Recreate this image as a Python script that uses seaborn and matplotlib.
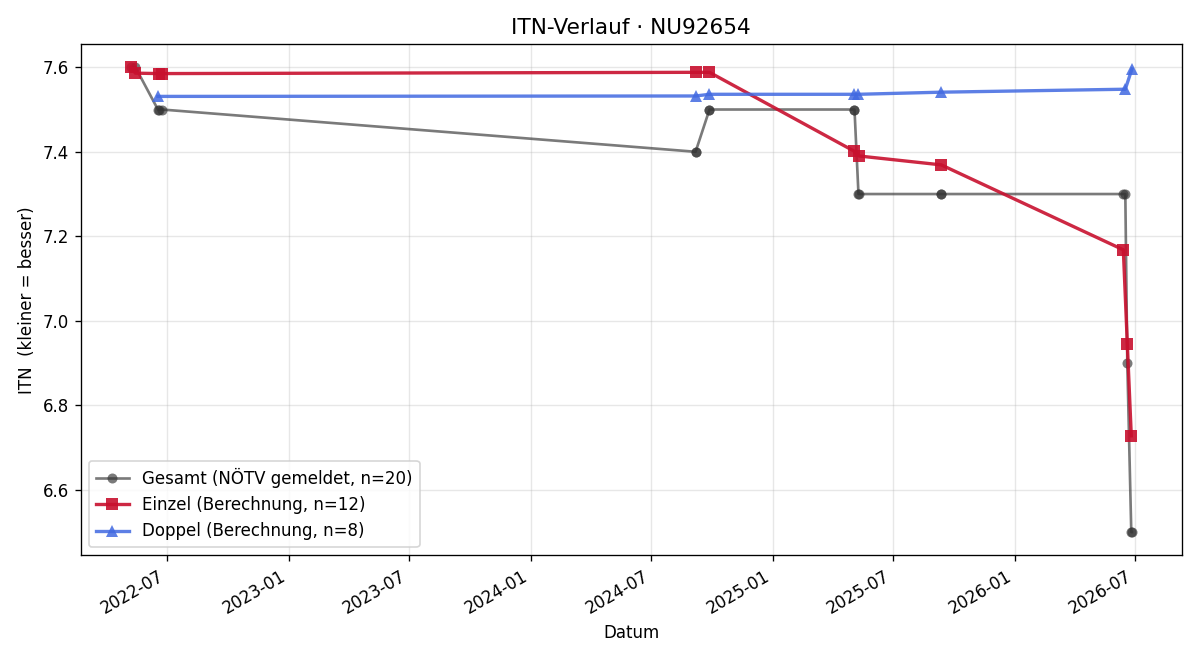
import matplotlib
matplotlib.use("Agg")
import matplotlib.pyplot as plt
import matplotlib.dates as mdates
import seaborn as sns
import pandas as pd

gesamt_dates = ["2022-05-07", "2022-05-14", "2022-06-17", "2022-06-19", "2022-06-23",
                "2024-09-06", "2024-09-06", "2024-09-27", "2024-09-27",
                "2025-05-04", "2025-05-04", "2025-05-10", "2025-05-11",
                "2025-09-12", "2025-09-12", "2026-06-14", "2026-06-17",
                "2026-06-20", "2026-06-26", "2026-06-27"]
gesamt_vals = [7.6, 7.6, 7.5, 7.5, 7.5,
               7.4, 7.4, 7.5, 7.5,
               7.5, 7.5, 7.3, 7.3,
               7.3, 7.3, 7.3, 7.3,
               6.9, 6.5, 6.5]

einzel_dates = ["2022-05-07", "2022-05-14", "2022-06-19", "2022-06-23",
                "2024-09-06", "2024-09-27", "2025-05-04", "2025-05-11",
                "2025-09-12", "2026-06-14", "2026-06-20", "2026-06-26"]
einzel_vals = [7.600, 7.586, 7.585, 7.585,
               7.588, 7.588, 7.401, 7.390,
               7.369, 7.168, 6.946, 6.728]

doppel_dates = ["2022-06-17", "2024-09-06", "2024-09-27", "2025-05-04",
                "2025-05-10", "2025-09-12", "2026-06-17", "2026-06-27"]
doppel_vals = [7.531, 7.532, 7.536, 7.536,
               7.536, 7.541, 7.548, 7.596]

fig, ax = plt.subplots(figsize=(10, 5.5), dpi=120)

g = pd.DataFrame({"d": pd.to_datetime(gesamt_dates), "v": gesamt_vals})
e = pd.DataFrame({"d": pd.to_datetime(einzel_dates), "v": einzel_vals})
dp = pd.DataFrame({"d": pd.to_datetime(doppel_dates), "v": doppel_vals})

sns.lineplot(data=g, x="d", y="v", ax=ax, estimator=None, sort=False,
             color="#333333", alpha=0.65, lw=1.6, marker="o", markersize=6,
             markeredgewidth=0, label="Gesamt (NÖTV gemeldet, n=20)")
sns.lineplot(data=e, x="d", y="v", ax=ax, estimator=None, sort=False,
             color="#c8102e", alpha=0.9, lw=2.0, marker="s", markersize=7.5,
             markeredgewidth=0, label="Einzel (Berechnung, n=12)")
sns.lineplot(data=dp, x="d", y="v", ax=ax, estimator=None, sort=False,
             color="#4169e1", alpha=0.85, lw=2.0, marker="^", markersize=7.5,
             markeredgewidth=0, label="Doppel (Berechnung, n=8)")

ax.set_title("ITN-Verlauf · NU92654", fontsize=13)
ax.set_xlabel("Datum")
ax.set_ylabel("ITN  (kleiner = besser)")
ax.grid(True, alpha=0.3)
ax.xaxis.set_major_locator(mdates.MonthLocator(bymonth=[1, 7]))
ax.xaxis.set_major_formatter(mdates.DateFormatter("%Y-%m"))
ax.legend(loc="lower left")
fig.autofmt_xdate()
fig.tight_layout()
fig.savefig("out.png", dpi=120)
